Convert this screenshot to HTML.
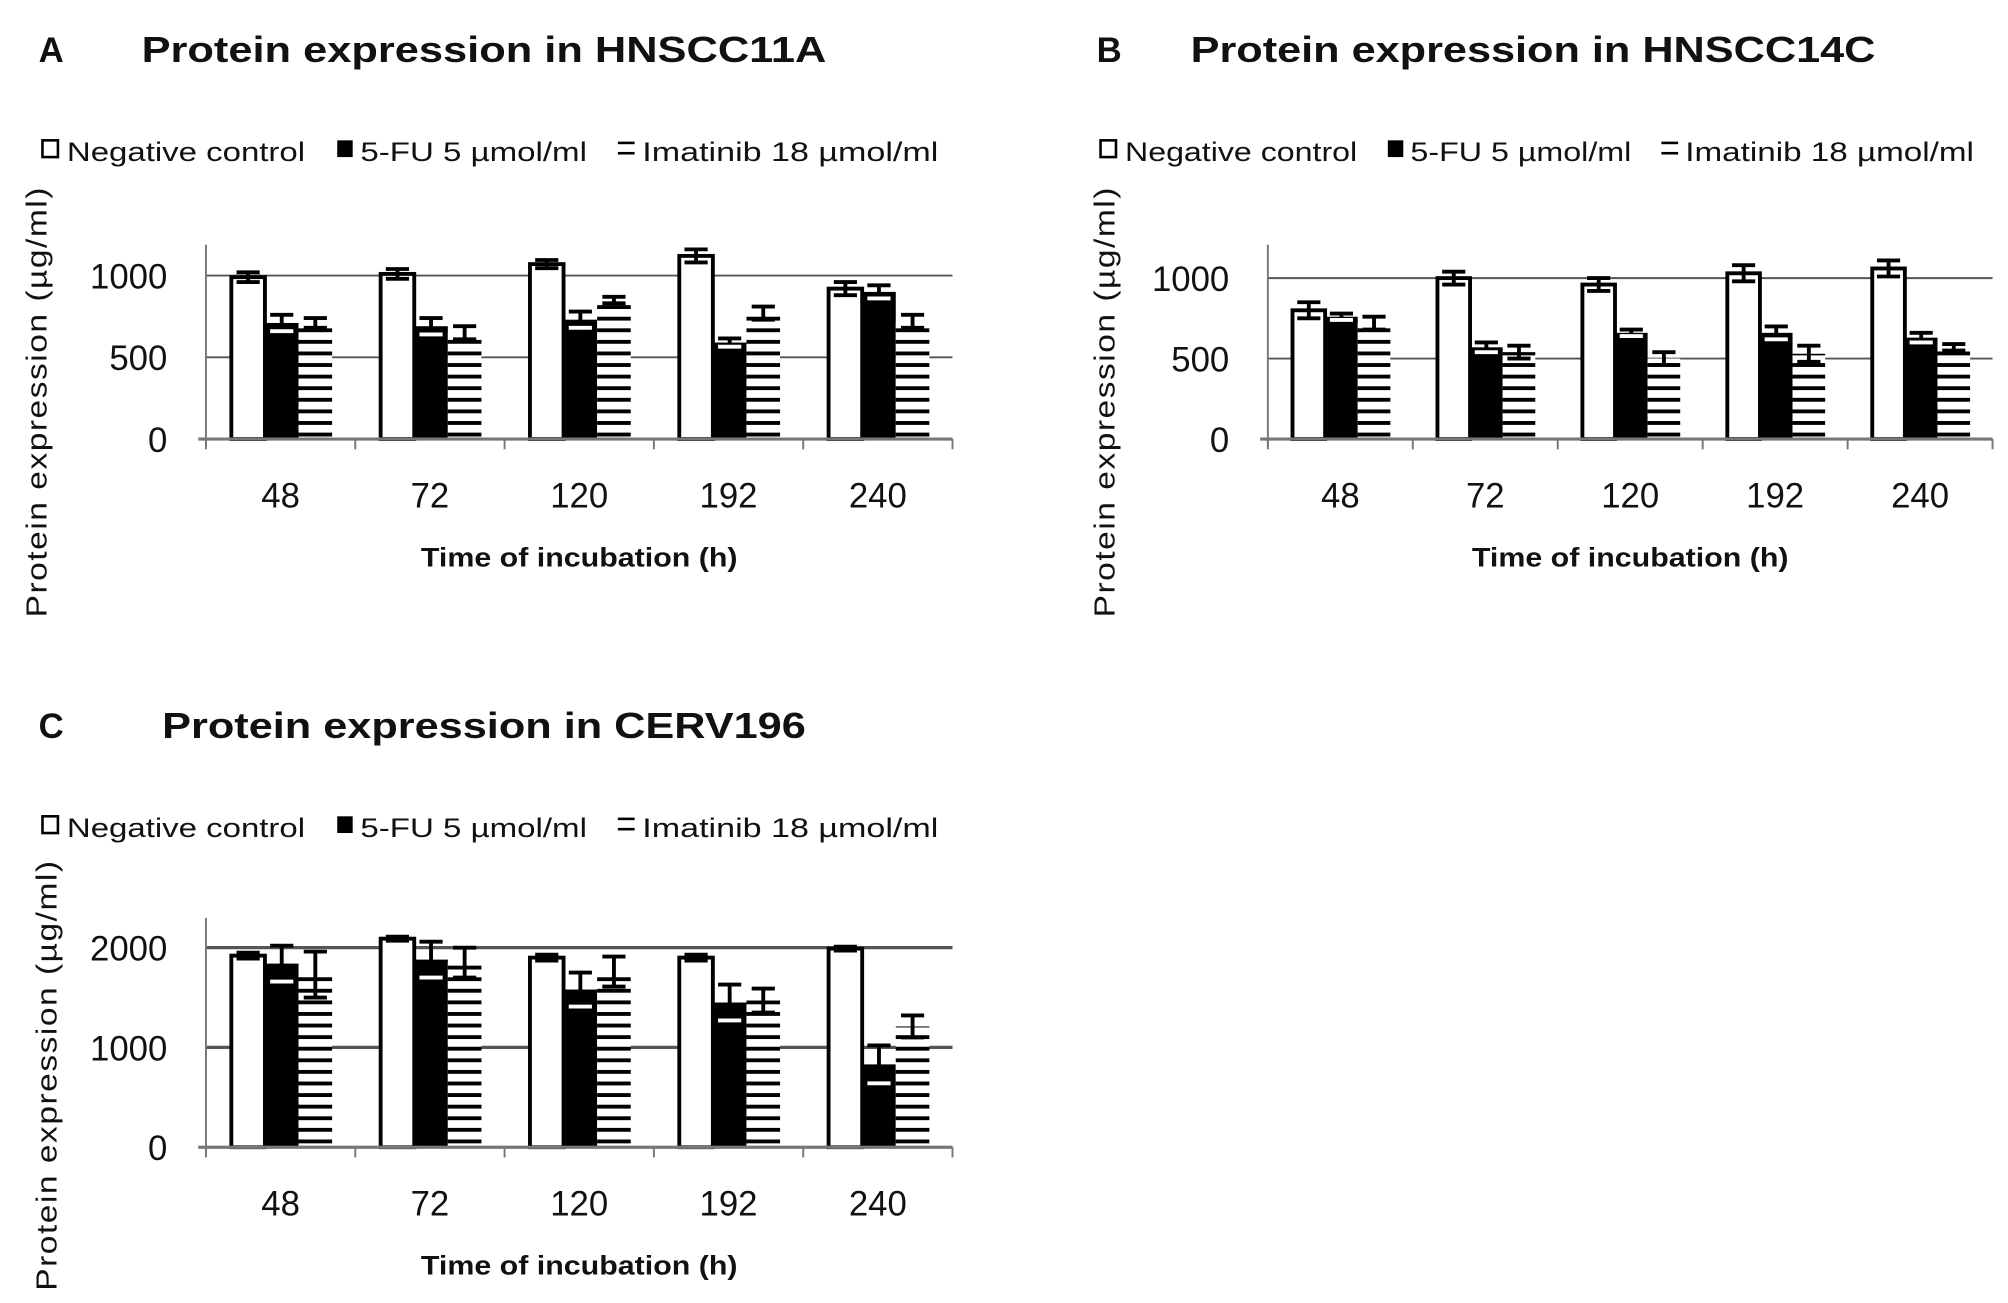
<!DOCTYPE html>
<html><head><meta charset="utf-8"><style>
html,body{margin:0;padding:0;background:#fff;}
svg{display:block;}
text{font-family:"Liberation Sans",sans-serif;fill:#111;}
</style></head><body>
<svg id="fig" width="2008" height="1303" viewBox="0 0 1560 1012" preserveAspectRatio="none" xmlns="http://www.w3.org/2000/svg">
<defs>
<pattern id="hatch" patternUnits="userSpaceOnUse" width="10" height="9">
<rect x="0" y="0" width="10" height="9" fill="#fff"/>
<rect x="0" y="3" width="10" height="3" fill="#000"/>
</pattern>
</defs>
</svg>
<script>
const categories = ["48","72","120","192","240"];
const seriesNames = ["Negative control","5-FU 5 µmol/ml","Imatinib 18 µmol/ml"];
const aControl = [990,1010,1070,1120,920];
const aFU = [710,690,730,590,900];
const aIma = [710,650,850,770,720];
const aControlErr = [30,30,25,40,40];
const aFUErr = [50,50,50,25,40];
const aImaErr = [30,40,20,40,40];
const bControl = [800,1000,960,1030,1060];
const bFU = [760,570,660,660,630];
const bIma = [720,540,500,530,570];
const bControlErr = [50,40,40,50,50];
const bFUErr = [20,30,20,40,30];
const bImaErr = [40,40,40,50,20];
const cControl = [1920,2090,1900,1900,1990];
const cFU = [1840,1880,1580,1450,830];
const cIma = [1730,1850,1760,1470,1210];
const cControlErr = [30,20,30,30,20];
const cFUErr = [180,180,170,180,190];
const cImaErr = [230,150,150,120,110];
const aTicks = [0,500,1000];
const bTicks = [0,500,1000];
const cTicks = [0,1000,2000];

const NS="http://www.w3.org/2000/svg";
const svg=document.getElementById('fig');
function mk(tag,attrs,parent){const e=document.createElementNS(NS,tag);for(const k in attrs)e.setAttribute(k,attrs[k]);(parent||svg).appendChild(e);return e;}

function panel(p){
  const g=mk('g',{});
  
  
  const y=v=>p.y0-(v/p.unit)*p.ppu;
  const cw=(p.x1-p.x0)/categories.length;
  const l=mk('text',{x:p.lx,y:p.ty,'font-size':27,'font-weight':'bold'},g);l.textContent=p.id;
  
  
  const t=mk('text',{x:p.tx,y:p.ty,'font-size':28,'font-weight':'bold',textLength:p.tw,lengthAdjust:'spacingAndGlyphs'},g);t.textContent=p.title;
  
  
  const ly=p.legY, s=p.ls||1;
  const lg=mk('g',{},g);
  
  
  mk('rect',{x:p.lx+3,y:ly-9,width:12,height:13,fill:'#fff',stroke:'#000','stroke-width':2},lg);
  mk('rect',{x:p.lx+232*s,y:ly-9,width:12,height:13,fill:'#000'},lg);
  mk('rect',{x:p.lx+450*s,y:ly-8,width:13,height:2,fill:'#000'},lg);
  mk('rect',{x:p.lx+450*s,y:ly,width:13,height:2,fill:'#000'},lg);
  const lt=[[p.lx+22,185*s],[p.lx+250*s,176*s],[p.lx+469*s,230*s]];
  lt.forEach((q,i)=>{const e=mk('text',{x:q[0],y:ly+7,'font-size':21,textLength:q[1],lengthAdjust:'spacingAndGlyphs'},lg);e.textContent=seriesNames[i];
    
    });
  p.ticks.forEach(v=>{
    if(v>0){const gl=mk('line',{x1:p.x0,x2:p.x1,y1:y(v),y2:y(v),stroke:'#555','stroke-width':p.id==='C'?2.5:1.5},g);
      
      }
    const tt=mk('text',{x:p.x0-30,y:y(v)+10,'font-size':27,'text-anchor':'end'},g);tt.textContent=v;
    
    
  });
  const ya=mk('line',{x1:p.x0,x2:p.x0,y1:p.yTop,y2:p.y0+6,stroke:'#777','stroke-width':1.5},g);
  
  
  const sets=[[p.c,p.ce,'#fff'],[p.f,p.fe,'#000'],[p.m,p.me,'url(#hatch)']];
  const bw=cw*0.225, off=cw*0.17;
  categories.forEach((c,i)=>{
    sets.forEach((st,j)=>{
      const bx=p.x0+i*cw+off+j*bw, v=st[0][i], e=st[1][i];
      const r=mk('rect',{x:bx,y:y(v),width:bw,height:p.y0-y(v),fill:st[2],stroke:j===0?'#000':'none','stroke-width':3},g);
      
      
      const cx=bx+bw/2;
      const eb=mk('g',{stroke:'#000','stroke-width':3},g);
      
      
      mk('line',{x1:cx,x2:cx,y1:y(v+e),y2:y(v-e)},eb);
      mk('line',{x1:cx-9,x2:cx+9,y1:y(v+e),y2:y(v+e)},eb);
      mk('line',{x1:cx-9,x2:cx+9,y1:y(v-e),y2:y(v-e),stroke:j===1?'#fff':'#000'},eb);
    });
    const xl=mk('text',{x:p.x0+(i+0.5)*cw,y:p.y0+53,'font-size':27,'text-anchor':'middle'},g);xl.textContent=c;
    
    
  });
  const xa=mk('line',{x1:p.x0-6,x2:p.x1,y1:p.y0,y2:p.y0,stroke:'#777','stroke-width':2.5},g);
  
  
  for(let i=0;i<=categories.length;i++){mk('line',{x1:p.x0+i*cw,x2:p.x0+i*cw,y1:p.y0,y2:p.y0+8,stroke:'#777','stroke-width':1.5},g);}
  const xt=mk('text',{x:(p.x0+p.x1)/2,y:p.y0+99,'font-size':21,'font-weight':'bold','text-anchor':'middle',textLength:246,lengthAdjust:'spacingAndGlyphs'},g);xt.textContent='Time of incubation (h)';
  
  
  const yt=mk('text',{x:0,y:0,'font-size':22,'text-anchor':'middle',transform:`translate(${p.ytx},${p.yty}) rotate(-90)`,textLength:335,lengthAdjust:'spacingAndGlyphs','letter-spacing':1},g);yt.textContent='Protein expression  (µg/ml)';
  
  
}
panel({id:'A',title:'Protein expression in HNSCC11A',lx:30,tx:110,tw:532,ty:48,legY:118,x0:160,x1:740,y0:341,ppu:127,unit:1000,yTop:190,ticks:aTicks,
  c:aControl,ce:aControlErr,f:aFU,fe:aFUErr,m:aIma,me:aImaErr,ytx:36,yty:312});
panel({id:'B',title:'Protein expression in HNSCC14C',lx:852,tx:925,tw:532,ty:48,legY:118,ls:0.975,x0:985,x1:1548,y0:341,ppu:125,unit:1000,yTop:190,ticks:bTicks,
  c:bControl,ce:bControlErr,f:bFU,fe:bFUErr,m:bIma,me:bImaErr,ytx:866,yty:312});
panel({id:'C',title:'Protein expression in CERV196',lx:30,tx:126,tw:500,ty:573,legY:643,x0:160,x1:740,y0:891,ppu:77.5,unit:1000,yTop:713,ticks:cTicks,
  c:cControl,ce:cControlErr,f:cFU,fe:cFUErr,m:cIma,me:cImaErr,ytx:44,yty:835});
</script>
</body></html>
